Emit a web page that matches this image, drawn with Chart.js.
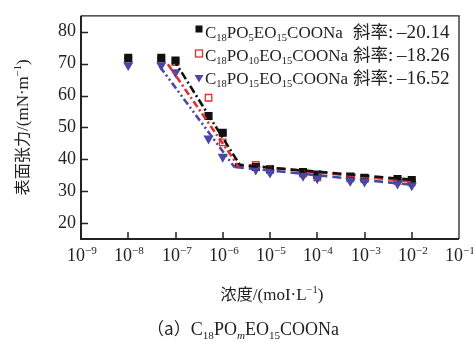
<!DOCTYPE html>
<html>
<head>
<meta charset="utf-8">
<script src="https://cdn.jsdelivr.net/npm/chart.js@4"></script>
<style>
  html, body { margin: 0; padding: 0; background: #fff; }
  #wrap { width: 473px; height: 342px; }
</style>
</head>
<body>
<div id="wrap"><canvas id="grafica"></canvas></div>
<script>
// concentracion (mol/L) y tension superficial (mN/m)
const concentraciones = [1e-8, 5e-8, 1e-7, 5e-7, 1e-6, 5e-6, 1e-5, 5e-5, 1e-4, 5e-4, 1e-3, 5e-3, 1e-2];
const tensionPO5 = [71.8, 71.8, 71.0, 53.6, 48.3, 37.6, 36.8, 36.0, 35.2, 34.6, 34.2, 33.8, 33.5];
const tensionPO10 = [71.2, 71.2, 70.5, 59.3, 45.3, 38.2, 37.0, 35.5, 34.3, 34.0, 33.8, 33.2, 32.8];
const tensionPO15 = [69.5, 69.5, 67.3, 46.5, 40.8, 36.8, 35.8, 34.8, 34.0, 33.2, 33.0, 32.4, 31.8];

// rectas de ajuste (antes y despues de la CMC)
const ajustePO5X = [8.9e-8, 2.4e-6];
const ajustePO5Y = [71.5, 37.8];
const ajustePO10X = [6.9e-8, 2.2e-6];
const ajustePO10Y = [69.8, 37.6];
const ajustePO15X = [4.7e-8, 1.8e-6];
const ajustePO15Y = [69.0, 37.4];
const mesetaX = [1.8e-6, 1e-2];
const mesetaPO5Y = [38.3, 33.6];
const mesetaPO10Y = [38.5, 33.0];
const mesetaPO15Y = [37.6, 32.0];

const pendientes = ["20.14", "18.26", "16.52"];
const exponentesX = [-9, -8, -7, -6, -5, -4, -3, -2, -1];
const ticksY = [20, 30, 40, 50, 60, 70, 80];

const NEGRO = "#111111";
const ROJO = "#e0302f";
const AZUL = "#4a48a6";
const SERIF = '"Liberation Serif", "DejaVu Serif", serif';
const CJK = '"Noto Sans CJK SC", sans-serif';

const puntos = (xs, ys) => xs.map((x, i) => ({ x: x, y: ys[i] }));

function dibujarTexto(ctx, x, y, partes, tam, align) {
    // partes: [texto, tipo] con tipo "", "sub", "sup", "cjk", "subi", "grande"
    const fuente = (tipo) => {
        if (tipo === "sub" || tipo === "sup") return `${tam * 0.62}px ${SERIF}`;
        if (tipo === "subi") return `italic ${tam * 0.62}px ${SERIF}`;
        if (tipo === "cjk") return `${tam * 0.95}px ${CJK}`;
        if (tipo === "cjk2") return `${tam * 1.03}px ${CJK}`;
        if (tipo === "grande") return `${tam * 1.12}px ${SERIF}`;
        return `${tam}px ${SERIF}`;
    };
    let total = 0;
    partes.forEach(([t, tipo]) => {
        ctx.font = fuente(tipo);
        total += ctx.measureText(t).width;
    });
    let cx = x;
    if (align === "center") cx = x - total / 2;
    if (align === "right") cx = x - total;
    ctx.textAlign = "left";
    ctx.textBaseline = "alphabetic";
    partes.forEach(([t, tipo]) => {
        ctx.font = fuente(tipo);
        let dy = 0;
        if (tipo === "sub" || tipo === "subi") dy = tam * 0.22;
        if (tipo === "sup") dy = -tam * 0.4;
        ctx.fillText(t, cx, y + dy);
        cx += ctx.measureText(t).width;
    });
}

function marcador(ctx, tipo, x, y) {
    ctx.save();
    ctx.lineWidth = 1.3;
    if (tipo === "negro") {
        ctx.fillStyle = NEGRO;
        ctx.fillRect(x - 3.5, y - 3.5, 7, 7);
    } else if (tipo === "rojo") {
        ctx.strokeStyle = ROJO;
        ctx.fillStyle = "#fff";
        ctx.fillRect(x - 3.5, y - 3.5, 7, 7);
        ctx.strokeRect(x - 3.5, y - 3.5, 7, 7);
    } else {
        ctx.fillStyle = AZUL;
        ctx.beginPath();
        ctx.moveTo(x - 4.5, y - 3);
        ctx.lineTo(x + 4.5, y - 3);
        ctx.lineTo(x, y + 4.5);
        ctx.closePath();
        ctx.fill();
    }
    ctx.restore();
}

const decoraciones = {
    id: "decoraciones",
    afterDraw(chart) {
        const ctx = chart.ctx;
        const a = chart.chartArea;
        const sx = chart.scales.x;
        const sy = chart.scales.y;
        ctx.save();
        ctx.fillStyle = "#222";
        ctx.strokeStyle = "#222";

        // marco
        ctx.lineWidth = 1.3;
        ctx.beginPath();
        ctx.moveTo(a.left, a.top);
        ctx.lineTo(a.right, a.top);
        ctx.lineTo(a.right, a.bottom);
        ctx.stroke();
        ctx.lineWidth = 2;
        ctx.beginPath();
        ctx.moveTo(a.left, a.top);
        ctx.lineTo(a.left, a.bottom);
        ctx.lineTo(a.right, a.bottom);
        ctx.stroke();

        // marcas hacia dentro
        ctx.lineWidth = 1.5;
        ticksY.forEach((v) => {
            const py = Math.round(sy.getPixelForValue(v)) + 0.5;
            ctx.beginPath();
            ctx.moveTo(a.left, py);
            ctx.lineTo(a.left + 7, py);
            ctx.stroke();
        });
        exponentesX.forEach((e) => {
            const px = Math.round(sx.getPixelForValue(Math.pow(10, e)));
            if (e > -9 && e < -1) {
                ctx.beginPath();
                ctx.moveTo(px, a.bottom);
                ctx.lineTo(px, a.bottom - 7);
                ctx.stroke();
            }
            dibujarTexto(ctx, px + 1, a.bottom + 22, [["10", ""], ["\u2212" + Math.abs(e), "sup"]], 18, "center");
        });

        // titulos
        dibujarTexto(ctx, 272, 300, [["浓度", "cjk"], ["/(moI·L", ""], ["\u22121", "sup"], [")", ""]], 17, "center");
        dibujarTexto(ctx, 243, 335, [["（a）", "cjk"], ["C", ""], ["18", "sub"], ["PO", ""], ["m", "subi"], ["EO", ""], ["15", "sub"], ["COONa", ""]], 18, "center");
        ctx.save();
        ctx.translate(28, (a.top + a.bottom) / 2);
        ctx.rotate(-Math.PI / 2);
        dibujarTexto(ctx, 0, 0, [["表面张力", "cjk"], ["/(mN·m", ""], ["\u22121", "sup"], [")", ""]], 17, "center");
        ctx.restore();

        // leyenda
        const filas = [
            ["negro", [["C", ""], ["18", "sub"], ["PO", ""], ["5", "sub"], ["EO", ""], ["15", "sub"], ["COONa", ""]]],
            ["rojo", [["C", ""], ["18", "sub"], ["PO", ""], ["10", "sub"], ["EO", ""], ["15", "sub"], ["COONa", ""]]],
            ["azul", [["C", ""], ["18", "sub"], ["PO", ""], ["15", "sub"], ["EO", ""], ["15", "sub"], ["COONa", ""]]],
        ];
        filas.forEach(([tipo, partes], i) => {
            const base = 37.5 + i * 23;
            marcador(ctx, tipo, 199, 29 + i * 24.5);
            dibujarTexto(ctx, 205, base, partes, 17, "left");
            dibujarTexto(ctx, 353, base, [["斜率", "cjk2"], [":\u2009\u2013" + pendientes[i], "grande"]], 17, "left");
        });
        ctx.restore();
    },
};

const recta = (xs, ys, color, dash) => ({
    type: "line",
    data: puntos(xs, ys),
    borderColor: color,
    borderWidth: 2.6,
    borderDash: dash,
    pointRadius: 0,
    fill: false,
});

const serie = (ys, color, fondo, estilo, radio, rot) => ({
    type: "scatter",
    data: puntos(concentraciones, ys),
    pointStyle: estilo,
    pointRotation: rot,
    pointRadius: radio,
    pointBorderWidth: 1.3,
    borderColor: color,
    backgroundColor: fondo,
});

new Chart(document.getElementById("grafica"), {
    type: "scatter",
    data: {
        datasets: [
            recta(ajustePO5X, ajustePO5Y, NEGRO, [8, 3, 2, 3]),
            recta(ajustePO10X, ajustePO10Y, ROJO, [7, 3, 2, 3]),
            recta(ajustePO15X, ajustePO15Y, AZUL, [7, 3, 2, 3, 2, 3]),
            recta(mesetaX, mesetaPO5Y, NEGRO, [9, 5]),
            recta(mesetaX, mesetaPO10Y, ROJO, [9, 5]),
            recta(mesetaX, mesetaPO15Y, AZUL, [9, 5]),
            serie(tensionPO15, AZUL, AZUL, "triangle", 4.6, 180),
            serie(tensionPO5, NEGRO, NEGRO, "rect", 4.8, 0),
            serie(tensionPO10, ROJO, "#ffffff", "rect", 4.6, 0),
        ],
    },
    options: {
        responsive: true,
        maintainAspectRatio: false,
        animation: false,
        layout: { padding: { top: 12, right: 14, bottom: 95, left: 0 } },
        plugins: { legend: { display: false }, tooltip: { enabled: false } },
        scales: {
            x: {
                type: "logarithmic",
                min: 1e-9,
                max: 1e-1,
                grid: { display: false },
                border: { display: false },
                ticks: { display: false },
            },
            y: {
                min: 15,
                max: 85,
                grid: { display: false, drawTicks: false },
                border: { display: false },
                afterBuildTicks: (s) => {
                    s.ticks = ticksY.map((v) => ({ value: v }));
                },
                afterFit: (s) => {
                    s.width = 81;
                },
                ticks: {
                    padding: 5,
                    color: "#222",
                    font: { family: "Liberation Serif", size: 18 },
                },
            },
        },
    },
    plugins: [decoraciones],
});
</script>
</body>
</html>
